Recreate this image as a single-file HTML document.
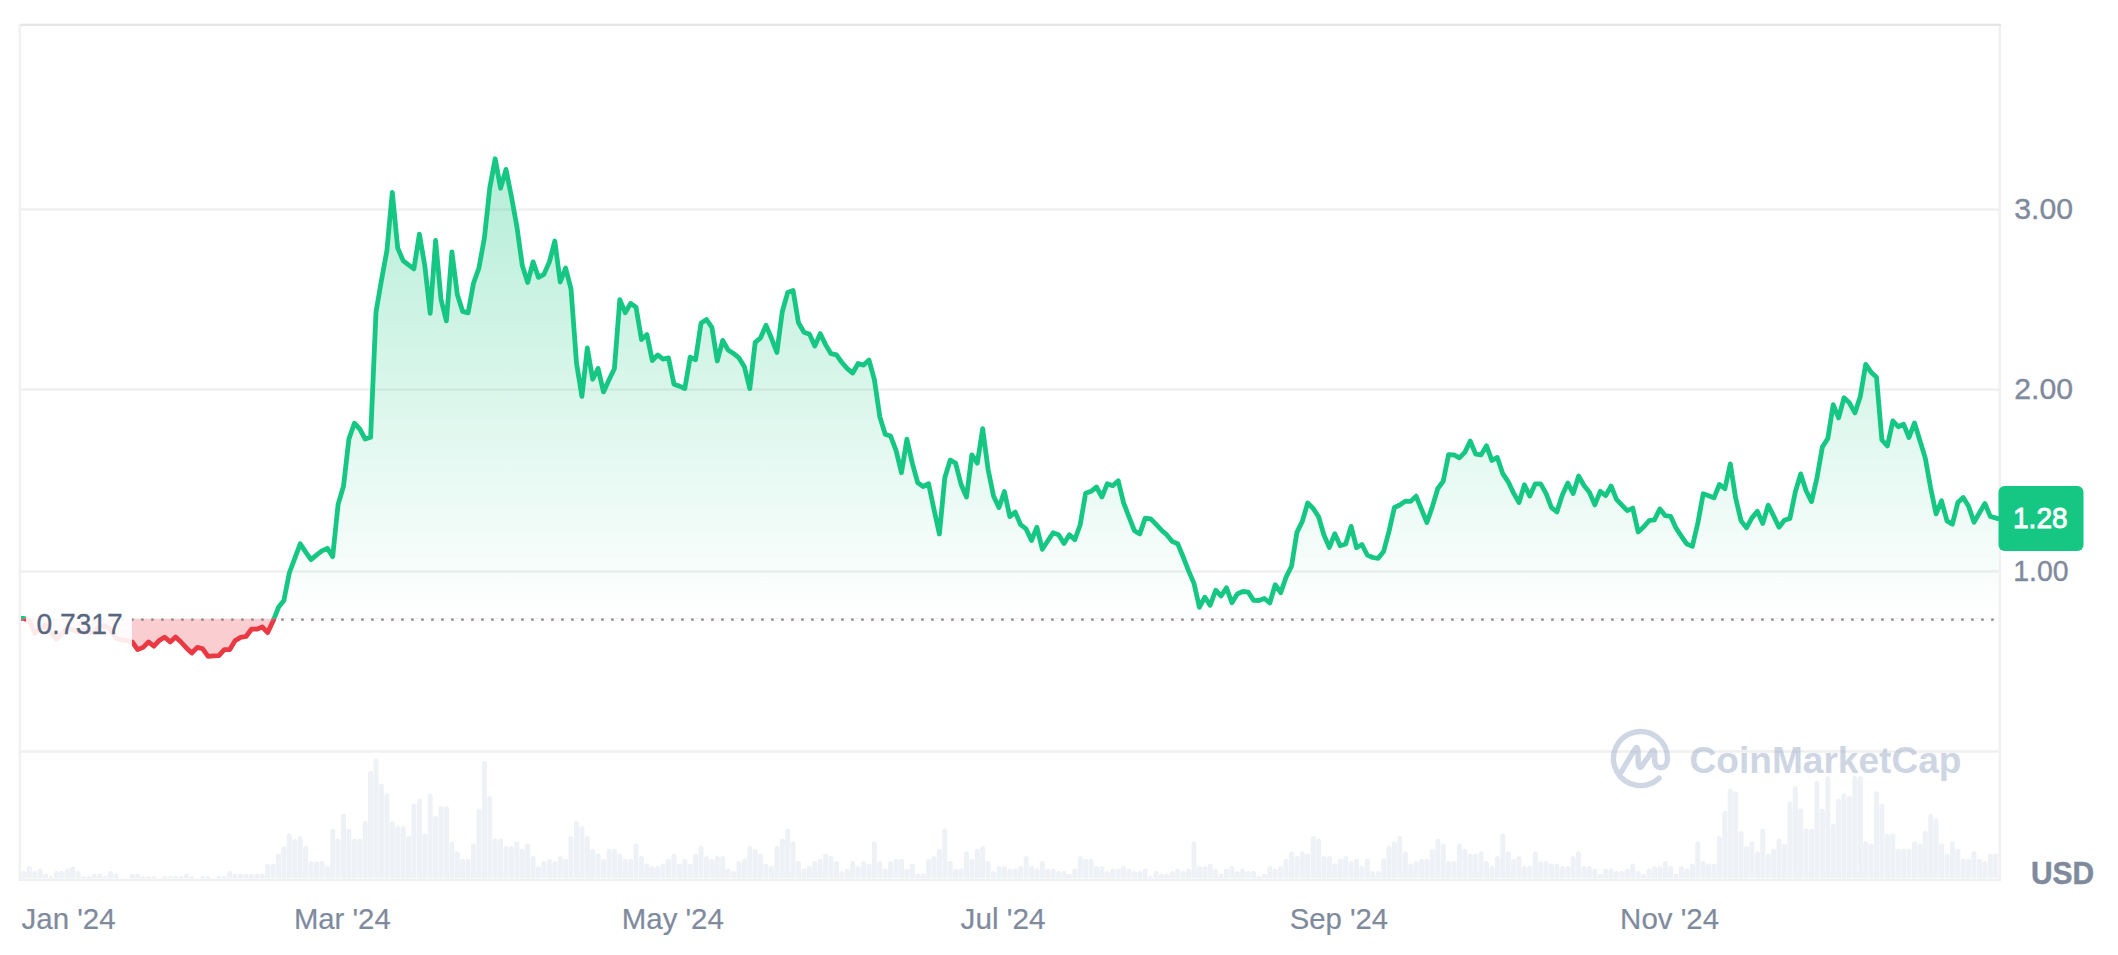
<!DOCTYPE html>
<html lang="en"><head><meta charset="utf-8"><title>Price chart</title>
<style>
html,body{margin:0;padding:0;background:#fff;}
body{width:2118px;height:955px;overflow:hidden;font-family:"Liberation Sans",sans-serif;}
svg{display:block}
text{font-family:"Liberation Sans",sans-serif;}
.ax{font-size:30px;fill:#808a9d;stroke:#808a9d;stroke-width:0.2px;}
.ay{font-size:30.2px;fill:#808a9d;stroke:#808a9d;stroke-width:0.4px;}
</style></head><body>
<svg width="2118" height="955" viewBox="0 0 2118 955">
<defs>
<linearGradient id="gg" gradientUnits="userSpaceOnUse" x1="0" y1="158" x2="0" y2="618.5">
<stop offset="0" stop-color="#16c784" stop-opacity="0.32"/>
<stop offset="1" stop-color="#16c784" stop-opacity="0.0"/>
</linearGradient>
<clipPath id="up"><rect x="21" y="26" width="1978" height="592.5"/></clipPath>
<clipPath id="dn"><rect x="21" y="618.5" width="1978" height="260.5"/></clipPath>
<clipPath id="plot"><rect x="21" y="26" width="1978" height="853"/></clipPath>
</defs>
<rect width="2118" height="955" fill="#fff"/>
<g clip-path="url(#plot)"><path d="M16 878.6V876.1Q16 873.6 18.5 873.6Q21 873.6 21 876.1V878.6ZM21.4 878.6V873.6Q21.4 871.1 23.9 871.1Q26.4 871.1 26.4 873.6V878.6ZM26.8 878.6V868.5Q26.8 866 29.3 866Q31.8 866 31.8 868.5V878.6ZM32.3 878.6V873.6Q32.3 871.1 34.8 871.1Q37.3 871.1 37.3 873.6V878.6ZM37.7 878.6V871.1Q37.7 868.6 40.2 868.6Q42.7 868.6 42.7 871.1V878.6ZM43.1 878.6V876.1Q43.1 873.6 45.6 873.6Q48.1 873.6 48.1 876.1V878.6ZM48.5 878.6V878.6Q48.5 876.1 51 876.1Q53.5 876.1 53.5 878.6V878.6ZM53.9 878.6V873.6Q53.9 871.1 56.4 871.1Q58.9 871.1 58.9 873.6V878.6ZM59.3 878.6V873.6Q59.3 871.1 61.8 871.1Q64.3 871.1 64.3 873.6V878.6ZM64.8 878.6V871.1Q64.8 868.6 67.3 868.6Q69.8 868.6 69.8 871.1V878.6ZM70.2 878.6V868.5Q70.2 866 72.7 866Q75.2 866 75.2 868.5V878.6ZM75.6 878.6V873.6Q75.6 871.1 78.1 871.1Q80.6 871.1 80.6 873.6V878.6ZM81 878.6V878.6Q81 876.1 83.5 876.1Q86 876.1 86 878.6V878.6ZM86.4 878.6V878.6Q86.4 876.1 88.9 876.1Q91.4 876.1 91.4 878.6V878.6ZM91.8 878.6V876.1Q91.8 873.6 94.3 873.6Q96.8 873.6 96.8 876.1V878.6ZM97.3 878.6V876.1Q97.3 873.6 99.8 873.6Q102.3 873.6 102.3 876.1V878.6ZM102.7 878.6V878.6Q102.7 876.1 105.2 876.1Q107.7 876.1 107.7 878.6V878.6ZM108.1 878.6V873.6Q108.1 871.1 110.6 871.1Q113.1 871.1 113.1 873.6V878.6ZM113.5 878.6V876.1Q113.5 873.6 116 873.6Q118.5 873.6 118.5 876.1V878.6ZM129.8 878.6V876.1Q129.8 873.6 132.3 873.6Q134.8 873.6 134.8 876.1V878.6ZM135.2 878.6V876.1Q135.2 873.6 137.7 873.6Q140.2 873.6 140.2 876.1V878.6ZM140.6 878.6V878.6Q140.6 876.1 143.1 876.1Q145.6 876.1 145.6 878.6V878.6ZM146 878.6V878.6Q146 876.1 148.5 876.1Q151 876.1 151 878.6V878.6ZM151.4 878.6V878.6Q151.4 876.1 153.9 876.1Q156.4 876.1 156.4 878.6V878.6ZM162.3 878.6V878.6Q162.3 876.1 164.8 876.1Q167.3 876.1 167.3 878.6V878.6ZM167.7 878.6V878.6Q167.7 876.1 170.2 876.1Q172.7 876.1 172.7 878.6V878.6ZM173.1 878.6V878.6Q173.1 876.1 175.6 876.1Q178.1 876.1 178.1 878.6V878.6ZM178.5 878.6V878.6Q178.5 876.1 181 876.1Q183.5 876.1 183.5 878.6V878.6ZM183.9 878.6V876.1Q183.9 873.6 186.4 873.6Q188.9 873.6 188.9 876.1V878.6ZM189.3 878.6V878.6Q189.3 876.1 191.8 876.1Q194.3 876.1 194.3 878.6V878.6ZM200.2 878.6V878.6Q200.2 876.1 202.7 876.1Q205.2 876.1 205.2 878.6V878.6ZM205.6 878.6V878.6Q205.6 876.1 208.1 876.1Q210.6 876.1 210.6 878.6V878.6ZM216.4 878.6V878.6Q216.4 876.1 218.9 876.1Q221.4 876.1 221.4 878.6V878.6ZM221.8 878.6V878.6Q221.8 876.1 224.3 876.1Q226.8 876.1 226.8 878.6V878.6ZM227.3 878.6V873.6Q227.3 871.1 229.8 871.1Q232.3 871.1 232.3 873.6V878.6ZM232.7 878.6V876.1Q232.7 873.6 235.2 873.6Q237.7 873.6 237.7 876.1V878.6ZM238.1 878.6V876.1Q238.1 873.6 240.6 873.6Q243.1 873.6 243.1 876.1V878.6ZM243.5 878.6V876.1Q243.5 873.6 246 873.6Q248.5 873.6 248.5 876.1V878.6ZM248.9 878.6V876.1Q248.9 873.6 251.4 873.6Q253.9 873.6 253.9 876.1V878.6ZM254.3 878.6V876.1Q254.3 873.6 256.8 873.6Q259.3 873.6 259.3 876.1V878.6ZM259.8 878.6V876.1Q259.8 873.6 262.3 873.6Q264.8 873.6 264.8 876.1V878.6ZM265.2 878.6V866.1Q265.2 863.6 267.7 863.6Q270.2 863.6 270.2 866.1V878.6ZM270.6 878.6V866.1Q270.6 863.6 273.1 863.6Q275.6 863.6 275.6 866.1V878.6ZM276 878.6V856.1Q276 853.6 278.5 853.6Q281 853.6 281 856.1V878.6ZM281.4 878.6V848.6Q281.4 846.1 283.9 846.1Q286.4 846.1 286.4 848.6V878.6ZM286.8 878.6V836.1Q286.8 833.6 289.3 833.6Q291.8 833.6 291.8 836.1V878.6ZM292.3 878.6V841.4Q292.3 838.9 294.8 838.9Q297.3 838.9 297.3 841.4V878.6ZM297.7 878.6V838.6Q297.7 836.1 300.2 836.1Q302.7 836.1 302.7 838.6V878.6ZM303.1 878.6V848.6Q303.1 846.1 305.6 846.1Q308.1 846.1 308.1 848.6V878.6ZM308.5 878.6V863.6Q308.5 861.1 311 861.1Q313.5 861.1 313.5 863.6V878.6ZM313.9 878.6V863.6Q313.9 861.1 316.4 861.1Q318.9 861.1 318.9 863.6V878.6ZM319.4 878.6V863.6Q319.4 861.1 321.9 861.1Q324.4 861.1 324.4 863.6V878.6ZM324.8 878.6V868.5Q324.8 866 327.3 866Q329.8 866 329.8 868.5V878.6ZM330.2 878.6V831.1Q330.2 828.6 332.7 828.6Q335.2 828.6 335.2 831.1V878.6ZM335.6 878.6V841.1Q335.6 838.6 338.1 838.6Q340.6 838.6 340.6 841.1V878.6ZM341 878.6V816.1Q341 813.6 343.5 813.6Q346 813.6 346 816.1V878.6ZM346.4 878.6V831.1Q346.4 828.6 348.9 828.6Q351.4 828.6 351.4 831.1V878.6ZM351.9 878.6V841.1Q351.9 838.6 354.4 838.6Q356.9 838.6 356.9 841.1V878.6ZM357.3 878.6V841.1Q357.3 838.6 359.8 838.6Q362.3 838.6 362.3 841.1V878.6ZM362.7 878.6V823.5Q362.7 821 365.2 821Q367.7 821 367.7 823.5V878.6ZM368.1 878.6V773.5Q368.1 771 370.6 771Q373.1 771 373.1 773.5V878.6ZM373.5 878.6V761.1Q373.5 758.6 376 758.6Q378.5 758.6 378.5 761.1V878.6ZM378.9 878.6V786.1Q378.9 783.6 381.4 783.6Q383.9 783.6 383.9 786.1V878.6ZM384.4 878.6V796.1Q384.4 793.6 386.9 793.6Q389.4 793.6 389.4 796.1V878.6ZM389.8 878.6V823.5Q389.8 821 392.3 821Q394.8 821 394.8 823.5V878.6ZM395.2 878.6V828.6Q395.2 826.1 397.7 826.1Q400.2 826.1 400.2 828.6V878.6ZM400.6 878.6V828.6Q400.6 826.1 403.1 826.1Q405.6 826.1 405.6 828.6V878.6ZM406 878.6V838.6Q406 836.1 408.5 836.1Q411 836.1 411 838.6V878.6ZM411.4 878.6V806.1Q411.4 803.6 413.9 803.6Q416.4 803.6 416.4 806.1V878.6ZM416.9 878.6V801.1Q416.9 798.6 419.4 798.6Q421.9 798.6 421.9 801.1V878.6ZM422.3 878.6V836.1Q422.3 833.6 424.8 833.6Q427.3 833.6 427.3 836.1V878.6ZM427.7 878.6V796.1Q427.7 793.6 430.2 793.6Q432.7 793.6 432.7 796.1V878.6ZM433.1 878.6V818.4Q433.1 815.9 435.6 815.9Q438.1 815.9 438.1 818.4V878.6ZM438.5 878.6V808.4Q438.5 805.9 441 805.9Q443.5 805.9 443.5 808.4V878.6ZM443.9 878.6V808.4Q443.9 805.9 446.4 805.9Q448.9 805.9 448.9 808.4V878.6ZM449.4 878.6V843.7Q449.4 841.2 451.9 841.2Q454.4 841.2 454.4 843.7V878.6ZM454.8 878.6V853.7Q454.8 851.2 457.3 851.2Q459.8 851.2 459.8 853.7V878.6ZM460.2 878.6V861.3Q460.2 858.8 462.7 858.8Q465.2 858.8 465.2 861.3V878.6ZM465.6 878.6V861.3Q465.6 858.8 468.1 858.8Q470.6 858.8 470.6 861.3V878.6ZM471 878.6V846.1Q471 843.6 473.5 843.6Q476 843.6 476 846.1V878.6ZM476.4 878.6V811.1Q476.4 808.6 478.9 808.6Q481.4 808.6 481.4 811.1V878.6ZM481.9 878.6V763.4Q481.9 760.9 484.4 760.9Q486.9 760.9 486.9 763.4V878.6ZM487.3 878.6V798.6Q487.3 796.1 489.8 796.1Q492.3 796.1 492.3 798.6V878.6ZM492.7 878.6V841.1Q492.7 838.6 495.2 838.6Q497.7 838.6 497.7 841.1V878.6ZM498.1 878.6V841.1Q498.1 838.6 500.6 838.6Q503.1 838.6 503.1 841.1V878.6ZM503.5 878.6V848.6Q503.5 846.1 506 846.1Q508.5 846.1 508.5 848.6V878.6ZM508.9 878.6V848.6Q508.9 846.1 511.4 846.1Q513.9 846.1 513.9 848.6V878.6ZM514.4 878.6V843.7Q514.4 841.2 516.9 841.2Q519.4 841.2 519.4 843.7V878.6ZM519.8 878.6V851.3Q519.8 848.8 522.3 848.8Q524.8 848.8 524.8 851.3V878.6ZM525.2 878.6V846.1Q525.2 843.6 527.7 843.6Q530.2 843.6 530.2 846.1V878.6ZM530.6 878.6V858.4Q530.6 855.9 533.1 855.9Q535.6 855.9 535.6 858.4V878.6ZM536 878.6V868.4Q536 865.9 538.5 865.9Q541 865.9 541 868.4V878.6ZM541.4 878.6V863.5Q541.4 861 543.9 861Q546.4 861 546.4 863.5V878.6ZM546.9 878.6V861.3Q546.9 858.8 549.4 858.8Q551.9 858.8 551.9 861.3V878.6ZM552.3 878.6V863.5Q552.3 861 554.8 861Q557.3 861 557.3 863.5V878.6ZM557.7 878.6V858.4Q557.7 855.9 560.2 855.9Q562.7 855.9 562.7 858.4V878.6ZM563.1 878.6V861.3Q563.1 858.8 565.6 858.8Q568.1 858.8 568.1 861.3V878.6ZM568.5 878.6V838.6Q568.5 836.1 571 836.1Q573.5 836.1 573.5 838.6V878.6ZM574 878.6V823.5Q574 821 576.5 821Q579 821 579 823.5V878.6ZM579.4 878.6V828.6Q579.4 826.1 581.9 826.1Q584.4 826.1 584.4 828.6V878.6ZM584.8 878.6V838.6Q584.8 836.1 587.3 836.1Q589.8 836.1 589.8 838.6V878.6ZM590.2 878.6V851.3Q590.2 848.8 592.7 848.8Q595.2 848.8 595.2 851.3V878.6ZM595.6 878.6V856.1Q595.6 853.6 598.1 853.6Q600.6 853.6 600.6 856.1V878.6ZM601 878.6V861.3Q601 858.8 603.5 858.8Q606 858.8 606 861.3V878.6ZM606.5 878.6V851.3Q606.5 848.8 609 848.8Q611.5 848.8 611.5 851.3V878.6ZM611.9 878.6V851.3Q611.9 848.8 614.4 848.8Q616.9 848.8 616.9 851.3V878.6ZM617.3 878.6V856.1Q617.3 853.6 619.8 853.6Q622.3 853.6 622.3 856.1V878.6ZM622.7 878.6V861.3Q622.7 858.8 625.2 858.8Q627.7 858.8 627.7 861.3V878.6ZM628.1 878.6V861.3Q628.1 858.8 630.6 858.8Q633.1 858.8 633.1 861.3V878.6ZM633.5 878.6V846.1Q633.5 843.6 636 843.6Q638.5 843.6 638.5 846.1V878.6ZM639 878.6V858.4Q639 855.9 641.5 855.9Q644 855.9 644 858.4V878.6ZM644.4 878.6V866.1Q644.4 863.6 646.9 863.6Q649.4 863.6 649.4 866.1V878.6ZM649.8 878.6V868.4Q649.8 865.9 652.3 865.9Q654.8 865.9 654.8 868.4V878.6ZM655.2 878.6V868.4Q655.2 865.9 657.7 865.9Q660.2 865.9 660.2 868.4V878.6ZM660.6 878.6V866.1Q660.6 863.6 663.1 863.6Q665.6 863.6 665.6 866.1V878.6ZM666 878.6V861.3Q666 858.8 668.5 858.8Q671 858.8 671 861.3V878.6ZM671.5 878.6V856.1Q671.5 853.6 674 853.6Q676.5 853.6 676.5 856.1V878.6ZM676.9 878.6V866.1Q676.9 863.6 679.4 863.6Q681.9 863.6 681.9 866.1V878.6ZM682.3 878.6V861.3Q682.3 858.8 684.8 858.8Q687.3 858.8 687.3 861.3V878.6ZM687.7 878.6V866.1Q687.7 863.6 690.2 863.6Q692.7 863.6 692.7 866.1V878.6ZM693.1 878.6V856.1Q693.1 853.6 695.6 853.6Q698.1 853.6 698.1 856.1V878.6ZM698.5 878.6V848.6Q698.5 846.1 701 846.1Q703.5 846.1 703.5 848.6V878.6ZM704 878.6V858.4Q704 855.9 706.5 855.9Q709 855.9 709 858.4V878.6ZM709.4 878.6V861.3Q709.4 858.8 711.9 858.8Q714.4 858.8 714.4 861.3V878.6ZM714.8 878.6V858.4Q714.8 855.9 717.3 855.9Q719.8 855.9 719.8 858.4V878.6ZM720.2 878.6V858.4Q720.2 855.9 722.7 855.9Q725.2 855.9 725.2 858.4V878.6ZM725.6 878.6V871.1Q725.6 868.6 728.1 868.6Q730.6 868.6 730.6 871.1V878.6ZM731 878.6V873.6Q731 871.1 733.5 871.1Q736 871.1 736 873.6V878.6ZM736.5 878.6V863.5Q736.5 861 739 861Q741.5 861 741.5 863.5V878.6ZM741.9 878.6V861.3Q741.9 858.8 744.4 858.8Q746.9 858.8 746.9 861.3V878.6ZM747.3 878.6V848.6Q747.3 846.1 749.8 846.1Q752.3 846.1 752.3 848.6V878.6ZM752.7 878.6V851.3Q752.7 848.8 755.2 848.8Q757.7 848.8 757.7 851.3V878.6ZM758.1 878.6V856.1Q758.1 853.6 760.6 853.6Q763.1 853.6 763.1 856.1V878.6ZM763.5 878.6V866.1Q763.5 863.6 766 863.6Q768.5 863.6 768.5 866.1V878.6ZM769 878.6V868.4Q769 865.9 771.5 865.9Q774 865.9 774 868.4V878.6ZM774.4 878.6V848.6Q774.4 846.1 776.9 846.1Q779.4 846.1 779.4 848.6V878.6ZM779.8 878.6V841.1Q779.8 838.6 782.3 838.6Q784.8 838.6 784.8 841.1V878.6ZM785.2 878.6V831.1Q785.2 828.6 787.7 828.6Q790.2 828.6 790.2 831.1V878.6ZM790.6 878.6V843.7Q790.6 841.2 793.1 841.2Q795.6 841.2 795.6 843.7V878.6ZM796 878.6V863.5Q796 861 798.5 861Q801 861 801 863.5V878.6ZM801.5 878.6V871.1Q801.5 868.6 804 868.6Q806.5 868.6 806.5 871.1V878.6ZM806.9 878.6V868.4Q806.9 865.9 809.4 865.9Q811.9 865.9 811.9 868.4V878.6ZM812.3 878.6V863.5Q812.3 861 814.8 861Q817.3 861 817.3 863.5V878.6ZM817.7 878.6V861.3Q817.7 858.8 820.2 858.8Q822.7 858.8 822.7 861.3V878.6ZM823.1 878.6V856.1Q823.1 853.6 825.6 853.6Q828.1 853.6 828.1 856.1V878.6ZM828.5 878.6V858.4Q828.5 855.9 831 855.9Q833.5 855.9 833.5 858.4V878.6ZM834 878.6V863.5Q834 861 836.5 861Q839 861 839 863.5V878.6ZM839.4 878.6V873.6Q839.4 871.1 841.9 871.1Q844.4 871.1 844.4 873.6V878.6ZM844.8 878.6V871.1Q844.8 868.6 847.3 868.6Q849.8 868.6 849.8 871.1V878.6ZM850.2 878.6V863.5Q850.2 861 852.7 861Q855.2 861 855.2 863.5V878.6ZM855.6 878.6V868.4Q855.6 865.9 858.1 865.9Q860.6 865.9 860.6 868.4V878.6ZM861.1 878.6V863.5Q861.1 861 863.6 861Q866.1 861 866.1 863.5V878.6ZM866.5 878.6V866.1Q866.5 863.6 869 863.6Q871.5 863.6 871.5 866.1V878.6ZM871.9 878.6V843.7Q871.9 841.2 874.4 841.2Q876.9 841.2 876.9 843.7V878.6ZM877.3 878.6V863.5Q877.3 861 879.8 861Q882.3 861 882.3 863.5V878.6ZM882.7 878.6V871.1Q882.7 868.6 885.2 868.6Q887.7 868.6 887.7 871.1V878.6ZM888.1 878.6V863.5Q888.1 861 890.6 861Q893.1 861 893.1 863.5V878.6ZM893.6 878.6V861.3Q893.6 858.8 896.1 858.8Q898.6 858.8 898.6 861.3V878.6ZM899 878.6V861.3Q899 858.8 901.5 858.8Q904 858.8 904 861.3V878.6ZM904.4 878.6V871.1Q904.4 868.6 906.9 868.6Q909.4 868.6 909.4 871.1V878.6ZM909.8 878.6V866.1Q909.8 863.6 912.3 863.6Q914.8 863.6 914.8 866.1V878.6ZM915.2 878.6V876.1Q915.2 873.6 917.7 873.6Q920.2 873.6 920.2 876.1V878.6ZM920.6 878.6V876.1Q920.6 873.6 923.1 873.6Q925.6 873.6 925.6 876.1V878.6ZM926.1 878.6V861.3Q926.1 858.8 928.6 858.8Q931.1 858.8 931.1 861.3V878.6ZM931.5 878.6V858.4Q931.5 855.9 934 855.9Q936.5 855.9 936.5 858.4V878.6ZM936.9 878.6V851.3Q936.9 848.8 939.4 848.8Q941.9 848.8 941.9 851.3V878.6ZM942.3 878.6V831.1Q942.3 828.6 944.8 828.6Q947.3 828.6 947.3 831.1V878.6ZM947.7 878.6V863.5Q947.7 861 950.2 861Q952.7 861 952.7 863.5V878.6ZM953.1 878.6V871.1Q953.1 868.6 955.6 868.6Q958.1 868.6 958.1 871.1V878.6ZM958.6 878.6V871.1Q958.6 868.6 961.1 868.6Q963.6 868.6 963.6 871.1V878.6ZM964 878.6V853.7Q964 851.2 966.5 851.2Q969 851.2 969 853.7V878.6ZM969.4 878.6V861.3Q969.4 858.8 971.9 858.8Q974.4 858.8 974.4 861.3V878.6ZM974.8 878.6V851.3Q974.8 848.8 977.3 848.8Q979.8 848.8 979.8 851.3V878.6ZM980.2 878.6V848.6Q980.2 846.1 982.7 846.1Q985.2 846.1 985.2 848.6V878.6ZM985.6 878.6V863.5Q985.6 861 988.1 861Q990.6 861 990.6 863.5V878.6ZM991.1 878.6V873.6Q991.1 871.1 993.6 871.1Q996.1 871.1 996.1 873.6V878.6ZM996.5 878.6V868.4Q996.5 865.9 999 865.9Q1001.5 865.9 1001.5 868.4V878.6ZM1001.9 878.6V868.4Q1001.9 865.9 1004.4 865.9Q1006.9 865.9 1006.9 868.4V878.6ZM1007.3 878.6V871.1Q1007.3 868.6 1009.8 868.6Q1012.3 868.6 1012.3 871.1V878.6ZM1012.7 878.6V871.1Q1012.7 868.6 1015.2 868.6Q1017.7 868.6 1017.7 871.1V878.6ZM1018.1 878.6V868.4Q1018.1 865.9 1020.6 865.9Q1023.1 865.9 1023.1 868.4V878.6ZM1023.6 878.6V858.4Q1023.6 855.9 1026.1 855.9Q1028.6 855.9 1028.6 858.4V878.6ZM1029 878.6V868.4Q1029 865.9 1031.5 865.9Q1034 865.9 1034 868.4V878.6ZM1034.4 878.6V871.1Q1034.4 868.6 1036.9 868.6Q1039.4 868.6 1039.4 871.1V878.6ZM1039.8 878.6V863.5Q1039.8 861 1042.3 861Q1044.8 861 1044.8 863.5V878.6ZM1045.2 878.6V871.1Q1045.2 868.6 1047.7 868.6Q1050.2 868.6 1050.2 871.1V878.6ZM1050.6 878.6V871.1Q1050.6 868.6 1053.1 868.6Q1055.6 868.6 1055.6 871.1V878.6ZM1056.1 878.6V873.6Q1056.1 871.1 1058.6 871.1Q1061.1 871.1 1061.1 873.6V878.6ZM1061.5 878.6V873.6Q1061.5 871.1 1064 871.1Q1066.5 871.1 1066.5 873.6V878.6ZM1066.9 878.6V876.1Q1066.9 873.6 1069.4 873.6Q1071.9 873.6 1071.9 876.1V878.6ZM1072.3 878.6V871.1Q1072.3 868.6 1074.8 868.6Q1077.3 868.6 1077.3 871.1V878.6ZM1077.7 878.6V858.4Q1077.7 855.9 1080.2 855.9Q1082.7 855.9 1082.7 858.4V878.6ZM1083.1 878.6V861.3Q1083.1 858.8 1085.6 858.8Q1088.1 858.8 1088.1 861.3V878.6ZM1088.6 878.6V861.3Q1088.6 858.8 1091.1 858.8Q1093.6 858.8 1093.6 861.3V878.6ZM1094 878.6V868.4Q1094 865.9 1096.5 865.9Q1099 865.9 1099 868.4V878.6ZM1099.4 878.6V868.4Q1099.4 865.9 1101.9 865.9Q1104.4 865.9 1104.4 868.4V878.6ZM1104.8 878.6V873.6Q1104.8 871.1 1107.3 871.1Q1109.8 871.1 1109.8 873.6V878.6ZM1110.2 878.6V871.1Q1110.2 868.6 1112.7 868.6Q1115.2 868.6 1115.2 871.1V878.6ZM1115.7 878.6V871.1Q1115.7 868.6 1118.2 868.6Q1120.7 868.6 1120.7 871.1V878.6ZM1121.1 878.6V868.4Q1121.1 865.9 1123.6 865.9Q1126.1 865.9 1126.1 868.4V878.6ZM1126.5 878.6V871.1Q1126.5 868.6 1129 868.6Q1131.5 868.6 1131.5 871.1V878.6ZM1131.9 878.6V873.6Q1131.9 871.1 1134.4 871.1Q1136.9 871.1 1136.9 873.6V878.6ZM1137.3 878.6V873.6Q1137.3 871.1 1139.8 871.1Q1142.3 871.1 1142.3 873.6V878.6ZM1142.7 878.6V871.1Q1142.7 868.6 1145.2 868.6Q1147.7 868.6 1147.7 871.1V878.6ZM1148.2 878.6V878.6Q1148.2 876.1 1150.7 876.1Q1153.2 876.1 1153.2 878.6V878.6ZM1153.6 878.6V873.6Q1153.6 871.1 1156.1 871.1Q1158.6 871.1 1158.6 873.6V878.6ZM1159 878.6V876.1Q1159 873.6 1161.5 873.6Q1164 873.6 1164 876.1V878.6ZM1164.4 878.6V876.1Q1164.4 873.6 1166.9 873.6Q1169.4 873.6 1169.4 876.1V878.6ZM1169.8 878.6V873.6Q1169.8 871.1 1172.3 871.1Q1174.8 871.1 1174.8 873.6V878.6ZM1175.2 878.6V871.1Q1175.2 868.6 1177.7 868.6Q1180.2 868.6 1180.2 871.1V878.6ZM1180.7 878.6V873.6Q1180.7 871.1 1183.2 871.1Q1185.7 871.1 1185.7 873.6V878.6ZM1186.1 878.6V871.1Q1186.1 868.6 1188.6 868.6Q1191.1 868.6 1191.1 871.1V878.6ZM1191.5 878.6V843.7Q1191.5 841.2 1194 841.2Q1196.5 841.2 1196.5 843.7V878.6ZM1196.9 878.6V868.4Q1196.9 865.9 1199.4 865.9Q1201.9 865.9 1201.9 868.4V878.6ZM1202.3 878.6V868.4Q1202.3 865.9 1204.8 865.9Q1207.3 865.9 1207.3 868.4V878.6ZM1207.7 878.6V866.1Q1207.7 863.6 1210.2 863.6Q1212.7 863.6 1212.7 866.1V878.6ZM1213.2 878.6V871.1Q1213.2 868.6 1215.7 868.6Q1218.2 868.6 1218.2 871.1V878.6ZM1218.6 878.6V876.1Q1218.6 873.6 1221.1 873.6Q1223.6 873.6 1223.6 876.1V878.6ZM1224 878.6V871.1Q1224 868.6 1226.5 868.6Q1229 868.6 1229 871.1V878.6ZM1229.4 878.6V868.4Q1229.4 865.9 1231.9 865.9Q1234.4 865.9 1234.4 868.4V878.6ZM1234.8 878.6V873.6Q1234.8 871.1 1237.3 871.1Q1239.8 871.1 1239.8 873.6V878.6ZM1240.2 878.6V871.1Q1240.2 868.6 1242.7 868.6Q1245.2 868.6 1245.2 871.1V878.6ZM1245.7 878.6V873.6Q1245.7 871.1 1248.2 871.1Q1250.7 871.1 1250.7 873.6V878.6ZM1251.1 878.6V873.6Q1251.1 871.1 1253.6 871.1Q1256.1 871.1 1256.1 873.6V878.6ZM1256.5 878.6V878.6Q1256.5 876.1 1259 876.1Q1261.5 876.1 1261.5 878.6V878.6ZM1261.9 878.6V876.1Q1261.9 873.6 1264.4 873.6Q1266.9 873.6 1266.9 876.1V878.6ZM1267.3 878.6V868.4Q1267.3 865.9 1269.8 865.9Q1272.3 865.9 1272.3 868.4V878.6ZM1272.7 878.6V871.1Q1272.7 868.6 1275.2 868.6Q1277.7 868.6 1277.7 871.1V878.6ZM1278.2 878.6V868.4Q1278.2 865.9 1280.7 865.9Q1283.2 865.9 1283.2 868.4V878.6ZM1283.6 878.6V861.3Q1283.6 858.8 1286.1 858.8Q1288.6 858.8 1288.6 861.3V878.6ZM1289 878.6V853.7Q1289 851.2 1291.5 851.2Q1294 851.2 1294 853.7V878.6ZM1294.4 878.6V858.4Q1294.4 855.9 1296.9 855.9Q1299.4 855.9 1299.4 858.4V878.6ZM1299.8 878.6V853.7Q1299.8 851.2 1302.3 851.2Q1304.8 851.2 1304.8 853.7V878.6ZM1305.2 878.6V856.1Q1305.2 853.6 1307.7 853.6Q1310.2 853.6 1310.2 856.1V878.6ZM1310.7 878.6V838.6Q1310.7 836.1 1313.2 836.1Q1315.7 836.1 1315.7 838.6V878.6ZM1316.1 878.6V841.1Q1316.1 838.6 1318.6 838.6Q1321.1 838.6 1321.1 841.1V878.6ZM1321.5 878.6V858.4Q1321.5 855.9 1324 855.9Q1326.5 855.9 1326.5 858.4V878.6ZM1326.9 878.6V858.4Q1326.9 855.9 1329.4 855.9Q1331.9 855.9 1331.9 858.4V878.6ZM1332.3 878.6V866.1Q1332.3 863.6 1334.8 863.6Q1337.3 863.6 1337.3 866.1V878.6ZM1337.7 878.6V861.3Q1337.7 858.8 1340.2 858.8Q1342.7 858.8 1342.7 861.3V878.6ZM1343.2 878.6V858.4Q1343.2 855.9 1345.7 855.9Q1348.2 855.9 1348.2 858.4V878.6ZM1348.6 878.6V863.5Q1348.6 861 1351.1 861Q1353.6 861 1353.6 863.5V878.6ZM1354 878.6V861.3Q1354 858.8 1356.5 858.8Q1359 858.8 1359 861.3V878.6ZM1359.4 878.6V868.4Q1359.4 865.9 1361.9 865.9Q1364.4 865.9 1364.4 868.4V878.6ZM1364.8 878.6V861.3Q1364.8 858.8 1367.3 858.8Q1369.8 858.8 1369.8 861.3V878.6ZM1370.2 878.6V873.6Q1370.2 871.1 1372.8 871.1Q1375.2 871.1 1375.2 873.6V878.6ZM1375.7 878.6V873.6Q1375.7 871.1 1378.2 871.1Q1380.7 871.1 1380.7 873.6V878.6ZM1381.1 878.6V861.3Q1381.1 858.8 1383.6 858.8Q1386.1 858.8 1386.1 861.3V878.6ZM1386.5 878.6V848.6Q1386.5 846.1 1389 846.1Q1391.5 846.1 1391.5 848.6V878.6ZM1391.9 878.6V843.7Q1391.9 841.2 1394.4 841.2Q1396.9 841.2 1396.9 843.7V878.6ZM1397.3 878.6V838.6Q1397.3 836.1 1399.8 836.1Q1402.3 836.1 1402.3 838.6V878.6ZM1402.8 878.6V853.7Q1402.8 851.2 1405.3 851.2Q1407.8 851.2 1407.8 853.7V878.6ZM1408.2 878.6V866.1Q1408.2 863.6 1410.7 863.6Q1413.2 863.6 1413.2 866.1V878.6ZM1413.6 878.6V863.5Q1413.6 861 1416.1 861Q1418.6 861 1418.6 863.5V878.6ZM1419 878.6V861.3Q1419 858.8 1421.5 858.8Q1424 858.8 1424 861.3V878.6ZM1424.4 878.6V861.3Q1424.4 858.8 1426.9 858.8Q1429.4 858.8 1429.4 861.3V878.6ZM1429.8 878.6V851.3Q1429.8 848.8 1432.3 848.8Q1434.8 848.8 1434.8 851.3V878.6ZM1435.3 878.6V841.1Q1435.3 838.6 1437.8 838.6Q1440.3 838.6 1440.3 841.1V878.6ZM1440.7 878.6V846.1Q1440.7 843.6 1443.2 843.6Q1445.7 843.6 1445.7 846.1V878.6ZM1446.1 878.6V863.5Q1446.1 861 1448.6 861Q1451.1 861 1451.1 863.5V878.6ZM1451.5 878.6V863.5Q1451.5 861 1454 861Q1456.5 861 1456.5 863.5V878.6ZM1456.9 878.6V846.1Q1456.9 843.6 1459.4 843.6Q1461.9 843.6 1461.9 846.1V878.6ZM1462.3 878.6V851.3Q1462.3 848.8 1464.8 848.8Q1467.3 848.8 1467.3 851.3V878.6ZM1467.8 878.6V856.1Q1467.8 853.6 1470.3 853.6Q1472.8 853.6 1472.8 856.1V878.6ZM1473.2 878.6V856.1Q1473.2 853.6 1475.7 853.6Q1478.2 853.6 1478.2 856.1V878.6ZM1478.6 878.6V853.7Q1478.6 851.2 1481.1 851.2Q1483.6 851.2 1483.6 853.7V878.6ZM1484 878.6V863.5Q1484 861 1486.5 861Q1489 861 1489 863.5V878.6ZM1489.4 878.6V868.4Q1489.4 865.9 1491.9 865.9Q1494.4 865.9 1494.4 868.4V878.6ZM1494.8 878.6V858.4Q1494.8 855.9 1497.3 855.9Q1499.8 855.9 1499.8 858.4V878.6ZM1500.3 878.6V836.1Q1500.3 833.6 1502.8 833.6Q1505.3 833.6 1505.3 836.1V878.6ZM1505.7 878.6V853.7Q1505.7 851.2 1508.2 851.2Q1510.7 851.2 1510.7 853.7V878.6ZM1511.1 878.6V861.3Q1511.1 858.8 1513.6 858.8Q1516.1 858.8 1516.1 861.3V878.6ZM1516.5 878.6V858.4Q1516.5 855.9 1519 855.9Q1521.5 855.9 1521.5 858.4V878.6ZM1521.9 878.6V868.4Q1521.9 865.9 1524.4 865.9Q1526.9 865.9 1526.9 868.4V878.6ZM1527.3 878.6V868.4Q1527.3 865.9 1529.8 865.9Q1532.3 865.9 1532.3 868.4V878.6ZM1532.8 878.6V853.7Q1532.8 851.2 1535.3 851.2Q1537.8 851.2 1537.8 853.7V878.6ZM1538.2 878.6V863.5Q1538.2 861 1540.7 861Q1543.2 861 1543.2 863.5V878.6ZM1543.6 878.6V863.5Q1543.6 861 1546.1 861Q1548.6 861 1548.6 863.5V878.6ZM1549 878.6V866.1Q1549 863.6 1551.5 863.6Q1554 863.6 1554 866.1V878.6ZM1554.4 878.6V866.1Q1554.4 863.6 1556.9 863.6Q1559.4 863.6 1559.4 866.1V878.6ZM1559.8 878.6V868.4Q1559.8 865.9 1562.3 865.9Q1564.8 865.9 1564.8 868.4V878.6ZM1565.3 878.6V868.4Q1565.3 865.9 1567.8 865.9Q1570.3 865.9 1570.3 868.4V878.6ZM1570.7 878.6V858.4Q1570.7 855.9 1573.2 855.9Q1575.7 855.9 1575.7 858.4V878.6ZM1576.1 878.6V853.7Q1576.1 851.2 1578.6 851.2Q1581.1 851.2 1581.1 853.7V878.6ZM1581.5 878.6V868.4Q1581.5 865.9 1584 865.9Q1586.5 865.9 1586.5 868.4V878.6ZM1586.9 878.6V868.4Q1586.9 865.9 1589.4 865.9Q1591.9 865.9 1591.9 868.4V878.6ZM1592.3 878.6V871.1Q1592.3 868.6 1594.8 868.6Q1597.3 868.6 1597.3 871.1V878.6ZM1597.8 878.6V876.1Q1597.8 873.6 1600.3 873.6Q1602.8 873.6 1602.8 876.1V878.6ZM1603.2 878.6V871.1Q1603.2 868.6 1605.7 868.6Q1608.2 868.6 1608.2 871.1V878.6ZM1608.6 878.6V871.1Q1608.6 868.6 1611.1 868.6Q1613.6 868.6 1613.6 871.1V878.6ZM1614 878.6V873.6Q1614 871.1 1616.5 871.1Q1619 871.1 1619 873.6V878.6ZM1619.4 878.6V873.6Q1619.4 871.1 1621.9 871.1Q1624.4 871.1 1624.4 873.6V878.6ZM1624.8 878.6V871.1Q1624.8 868.6 1627.3 868.6Q1629.8 868.6 1629.8 871.1V878.6ZM1630.3 878.6V866.1Q1630.3 863.6 1632.8 863.6Q1635.3 863.6 1635.3 866.1V878.6ZM1635.7 878.6V873.6Q1635.7 871.1 1638.2 871.1Q1640.7 871.1 1640.7 873.6V878.6ZM1641.1 878.6V876.1Q1641.1 873.6 1643.6 873.6Q1646.1 873.6 1646.1 876.1V878.6ZM1646.5 878.6V871.1Q1646.5 868.6 1649 868.6Q1651.5 868.6 1651.5 871.1V878.6ZM1651.9 878.6V868.4Q1651.9 865.9 1654.4 865.9Q1656.9 865.9 1656.9 868.4V878.6ZM1657.4 878.6V868.4Q1657.4 865.9 1659.9 865.9Q1662.4 865.9 1662.4 868.4V878.6ZM1662.8 878.6V863.5Q1662.8 861 1665.3 861Q1667.8 861 1667.8 863.5V878.6ZM1668.2 878.6V868.4Q1668.2 865.9 1670.7 865.9Q1673.2 865.9 1673.2 868.4V878.6ZM1673.6 878.6V876.1Q1673.6 873.6 1676.1 873.6Q1678.6 873.6 1678.6 876.1V878.6ZM1679 878.6V868.4Q1679 865.9 1681.5 865.9Q1684 865.9 1684 868.4V878.6ZM1684.4 878.6V871.1Q1684.4 868.6 1686.9 868.6Q1689.4 868.6 1689.4 871.1V878.6ZM1689.9 878.6V866.1Q1689.9 863.6 1692.4 863.6Q1694.9 863.6 1694.9 866.1V878.6ZM1695.3 878.6V843.7Q1695.3 841.2 1697.8 841.2Q1700.3 841.2 1700.3 843.7V878.6ZM1700.7 878.6V863.5Q1700.7 861 1703.2 861Q1705.7 861 1705.7 863.5V878.6ZM1706.1 878.6V866.1Q1706.1 863.6 1708.6 863.6Q1711.1 863.6 1711.1 866.1V878.6ZM1711.5 878.6V866.1Q1711.5 863.6 1714 863.6Q1716.5 863.6 1716.5 866.1V878.6ZM1716.9 878.6V838.6Q1716.9 836.1 1719.4 836.1Q1721.9 836.1 1721.9 838.6V878.6ZM1722.4 878.6V813.5Q1722.4 811 1724.9 811Q1727.4 811 1727.4 813.5V878.6ZM1727.8 878.6V791.1Q1727.8 788.6 1730.3 788.6Q1732.8 788.6 1732.8 791.1V878.6ZM1733.2 878.6V793.7Q1733.2 791.2 1735.7 791.2Q1738.2 791.2 1738.2 793.7V878.6ZM1738.6 878.6V833.5Q1738.6 831 1741.1 831Q1743.6 831 1743.6 833.5V878.6ZM1744 878.6V848.6Q1744 846.1 1746.5 846.1Q1749 846.1 1749 848.6V878.6ZM1749.4 878.6V843.7Q1749.4 841.2 1751.9 841.2Q1754.4 841.2 1754.4 843.7V878.6ZM1754.9 878.6V853.7Q1754.9 851.2 1757.4 851.2Q1759.9 851.2 1759.9 853.7V878.6ZM1760.3 878.6V831.1Q1760.3 828.6 1762.8 828.6Q1765.3 828.6 1765.3 831.1V878.6ZM1765.7 878.6V856.1Q1765.7 853.6 1768.2 853.6Q1770.7 853.6 1770.7 856.1V878.6ZM1771.1 878.6V851.3Q1771.1 848.8 1773.6 848.8Q1776.1 848.8 1776.1 851.3V878.6ZM1776.5 878.6V841.1Q1776.5 838.6 1779 838.6Q1781.5 838.6 1781.5 841.1V878.6ZM1781.9 878.6V846.1Q1781.9 843.6 1784.4 843.6Q1786.9 843.6 1786.9 846.1V878.6ZM1787.4 878.6V803.7Q1787.4 801.2 1789.9 801.2Q1792.4 801.2 1792.4 803.7V878.6ZM1792.8 878.6V788.6Q1792.8 786.1 1795.3 786.1Q1797.8 786.1 1797.8 788.6V878.6ZM1798.2 878.6V811.1Q1798.2 808.6 1800.7 808.6Q1803.2 808.6 1803.2 811.1V878.6ZM1803.6 878.6V831.1Q1803.6 828.6 1806.1 828.6Q1808.6 828.6 1808.6 831.1V878.6ZM1809 878.6V831.1Q1809 828.6 1811.5 828.6Q1814 828.6 1814 831.1V878.6ZM1814.4 878.6V783.5Q1814.4 781 1816.9 781Q1819.4 781 1819.4 783.5V878.6ZM1819.9 878.6V811.1Q1819.9 808.6 1822.4 808.6Q1824.9 808.6 1824.9 811.1V878.6ZM1825.3 878.6V778.6Q1825.3 776.1 1827.8 776.1Q1830.3 776.1 1830.3 778.6V878.6ZM1830.7 878.6V826.3Q1830.7 823.8 1833.2 823.8Q1835.7 823.8 1835.7 826.3V878.6ZM1836.1 878.6V801.1Q1836.1 798.6 1838.6 798.6Q1841.1 798.6 1841.1 801.1V878.6ZM1841.5 878.6V796.1Q1841.5 793.6 1844 793.6Q1846.5 793.6 1846.5 796.1V878.6ZM1846.9 878.6V798.6Q1846.9 796.1 1849.4 796.1Q1851.9 796.1 1851.9 798.6V878.6ZM1852.4 878.6V778.6Q1852.4 776.1 1854.9 776.1Q1857.4 776.1 1857.4 778.6V878.6ZM1857.8 878.6V778.6Q1857.8 776.1 1860.3 776.1Q1862.8 776.1 1862.8 778.6V878.6ZM1863.2 878.6V843.7Q1863.2 841.2 1865.7 841.2Q1868.2 841.2 1868.2 843.7V878.6ZM1868.6 878.6V846.1Q1868.6 843.6 1871.1 843.6Q1873.6 843.6 1873.6 846.1V878.6ZM1874 878.6V793.7Q1874 791.2 1876.5 791.2Q1879 791.2 1879 793.7V878.6ZM1879.4 878.6V806.1Q1879.4 803.6 1881.9 803.6Q1884.4 803.6 1884.4 806.1V878.6ZM1884.9 878.6V836.1Q1884.9 833.6 1887.4 833.6Q1889.9 833.6 1889.9 836.1V878.6ZM1890.3 878.6V836.1Q1890.3 833.6 1892.8 833.6Q1895.3 833.6 1895.3 836.1V878.6ZM1895.7 878.6V851.3Q1895.7 848.8 1898.2 848.8Q1900.7 848.8 1900.7 851.3V878.6ZM1901.1 878.6V851.3Q1901.1 848.8 1903.6 848.8Q1906.1 848.8 1906.1 851.3V878.6ZM1906.5 878.6V851.3Q1906.5 848.8 1909 848.8Q1911.5 848.8 1911.5 851.3V878.6ZM1912 878.6V843.7Q1912 841.2 1914.5 841.2Q1917 841.2 1917 843.7V878.6ZM1917.4 878.6V846.1Q1917.4 843.6 1919.9 843.6Q1922.4 843.6 1922.4 846.1V878.6ZM1922.8 878.6V833.5Q1922.8 831 1925.3 831Q1927.8 831 1927.8 833.5V878.6ZM1928.2 878.6V816.3Q1928.2 813.8 1930.7 813.8Q1933.2 813.8 1933.2 816.3V878.6ZM1933.6 878.6V821.1Q1933.6 818.6 1936.1 818.6Q1938.6 818.6 1938.6 821.1V878.6ZM1939 878.6V846.1Q1939 843.6 1941.5 843.6Q1944 843.6 1944 846.1V878.6ZM1944.5 878.6V856.1Q1944.5 853.6 1947 853.6Q1949.5 853.6 1949.5 856.1V878.6ZM1949.9 878.6V843.7Q1949.9 841.2 1952.4 841.2Q1954.9 841.2 1954.9 843.7V878.6ZM1955.3 878.6V851.3Q1955.3 848.8 1957.8 848.8Q1960.3 848.8 1960.3 851.3V878.6ZM1960.7 878.6V861.3Q1960.7 858.8 1963.2 858.8Q1965.7 858.8 1965.7 861.3V878.6ZM1966.1 878.6V861.3Q1966.1 858.8 1968.6 858.8Q1971.1 858.8 1971.1 861.3V878.6ZM1971.5 878.6V853.7Q1971.5 851.2 1974 851.2Q1976.5 851.2 1976.5 853.7V878.6ZM1977 878.6V861.3Q1977 858.8 1979.5 858.8Q1982 858.8 1982 861.3V878.6ZM1982.4 878.6V863.5Q1982.4 861 1984.9 861Q1987.4 861 1987.4 863.5V878.6ZM1987.8 878.6V856.1Q1987.8 853.6 1990.3 853.6Q1992.8 853.6 1992.8 856.1V878.6ZM1993.2 878.6V856.1Q1993.2 853.6 1995.7 853.6Q1998.2 853.6 1998.2 856.1V878.6Z" fill="#eef1f5"/></g>
<rect x="21" y="208.25" width="1978" height="2.5" fill="#f0f0f0"/><rect x="21" y="388.25" width="1978" height="2.5" fill="#f0f0f0"/><rect x="21" y="570.25" width="1978" height="2.5" fill="#f0f0f0"/><rect x="21" y="750.25" width="1978" height="2.5" fill="#f0f0f0"/>
<rect x="18.5" y="24" width="2.5" height="857" fill="#f1f1f1"/>
<rect x="1998.5" y="24" width="2.5" height="857" fill="#f1f1f1"/>
<rect x="19" y="879" width="1982" height="2" fill="#f0f0f0"/>
<rect x="21" y="23.6" width="1980" height="2.4" fill="#e5e5e5"/>
<g clip-path="url(#up)"><path d="M18.5 618.4 L23.9 618.4 L29.3 620.5 L34.8 633.5 L40.2 629 L45.6 625 L51 633 L56.4 639.5 L61.8 634 L67.3 628 L72.7 630 L78.1 632 L83.5 630 L88.9 633 L94.3 632 L99.8 626 L105.2 626 L110.6 630 L116 638.5 L121.4 640 L126.8 640.5 L132.3 642 L137.7 649.6 L143.1 647.4 L148.5 642 L153.9 646.2 L159.3 640.3 L164.8 637.2 L170.2 642 L175.6 636.9 L181 642 L186.4 647.9 L191.8 653 L197.3 647.4 L202.7 648.8 L208.1 656.4 L213.5 655.9 L218.9 655.6 L224.3 649.6 L229.8 649.6 L235.2 640.6 L240.6 637.4 L246 636.5 L251.4 629.2 L256.8 629.2 L262.3 627 L267.7 632.6 L273.1 621 L278.5 607.3 L283.9 600.4 L289.3 573 L294.8 558.4 L300.2 543.8 L305.6 551.9 L311 559.6 L316.4 555.1 L321.9 550.9 L327.3 548.3 L332.7 556.6 L338.1 504.4 L343.5 486.3 L348.9 439 L354.4 423.2 L359.8 429 L365.2 439 L370.6 437.3 L376 312.1 L381.4 280.7 L386.9 250.6 L392.3 192.3 L397.7 248 L403.1 260.6 L408.5 264.9 L413.9 268.9 L419.4 234.2 L424.8 265.6 L430.2 313.4 L435.6 240.5 L441 299.5 L446.4 320.9 L451.9 251.8 L457.3 294.5 L462.7 311.4 L468.1 312.9 L473.5 283.2 L478.9 268.1 L484.4 238 L489.8 187.7 L495.2 158.8 L500.6 188.2 L506 169.4 L511.4 196.5 L516.9 226.7 L522.3 265.6 L527.7 282.5 L533.1 261.9 L538.5 277.4 L543.9 274.4 L549.4 261.9 L554.8 241 L560.2 282 L565.6 268.1 L571 288.8 L576.5 363 L581.9 396.4 L587.3 347.9 L592.7 379.3 L598.1 368.5 L603.5 391.9 L609 379.8 L614.4 368.7 L619.8 299.6 L625.2 312.7 L630.6 303.4 L636 307.2 L641.5 339.6 L646.9 334.6 L652.3 360.5 L657.7 354.9 L663.1 359.2 L668.5 357.9 L674 384.3 L679.4 386.1 L684.8 388.6 L690.2 357.2 L695.6 359.7 L701 323.3 L706.5 319.5 L711.9 327.3 L717.3 361 L722.7 340.4 L728.1 349.9 L733.5 353.4 L739 357.9 L744.4 366.7 L749.8 388.6 L755.2 342.4 L760.6 337.8 L766 325.3 L771.5 338.3 L776.9 352.4 L782.3 311.5 L787.7 292.6 L793.1 290.6 L798.5 322.8 L804 332.3 L809.4 334.1 L814.8 346.1 L820.2 333.6 L825.6 344.6 L831 353.7 L836.5 354.9 L841.9 362.5 L847.3 368.7 L852.7 373 L858.1 363.5 L863.6 365.1 L869 360.1 L874.4 379.7 L879.8 416.6 L885.2 434.2 L890.6 436 L896.1 450.6 L901.5 472.7 L906.9 439.2 L912.3 463.1 L917.7 482.7 L923.1 486.5 L928.6 483.7 L934 509.6 L939.4 534 L944.8 477.7 L950.2 460.1 L955.6 463.1 L961.1 484.5 L966.5 497 L971.9 454.8 L977.3 463.1 L982.7 428.7 L988.1 469.4 L993.6 496.3 L999 507.6 L1004.4 491.5 L1009.8 516.6 L1015.2 512.1 L1020.6 524.7 L1026.1 528.9 L1031.5 540.5 L1036.9 527.2 L1042.3 549.3 L1047.7 541 L1053.1 532.7 L1058.6 534.7 L1064 543.5 L1069.4 534.7 L1074.8 539.7 L1080.2 524.7 L1085.6 493.3 L1091.1 491.3 L1096.5 487 L1101.9 497 L1107.3 483.7 L1112.7 485.7 L1118.2 480.7 L1123.6 502.8 L1129 516.8 L1134.4 530.7 L1139.8 533.9 L1145.2 518.1 L1150.7 518.8 L1156.1 524.4 L1161.5 530.2 L1166.9 534.9 L1172.3 541.5 L1177.7 543.7 L1183.2 557 L1188.6 570.9 L1194 583.4 L1199.4 607.3 L1204.8 597.2 L1210.2 605.3 L1215.7 590.2 L1221.1 596 L1226.5 587.7 L1231.9 602.8 L1237.3 594 L1242.7 591.5 L1248.2 592.2 L1253.6 600.3 L1259 600.5 L1264.4 598.5 L1269.8 603 L1275.2 584.7 L1280.7 592.7 L1286.1 577.1 L1291.5 566.3 L1296.9 532.4 L1302.3 521.4 L1307.7 503 L1313.2 508.5 L1318.6 516.8 L1324 535.2 L1329.4 547.5 L1334.8 533.7 L1340.2 545.7 L1345.7 544 L1351.1 526.4 L1356.5 547.7 L1361.9 544.5 L1367.3 555 L1372.8 557.5 L1378.2 558.3 L1383.6 551.5 L1389 531.4 L1394.4 507.5 L1399.8 505 L1405.3 501.1 L1410.7 501.4 L1416.1 496.1 L1421.5 509.4 L1426.9 522.5 L1432.3 506.9 L1437.8 488.5 L1443.2 481.3 L1448.6 454.6 L1454 454.9 L1459.4 457.9 L1464.8 452.4 L1470.3 441.1 L1475.7 454.1 L1481.1 454.9 L1486.5 445.8 L1491.9 460.4 L1497.3 457.4 L1502.8 473.7 L1508.2 481.8 L1513.6 493.1 L1519 502.6 L1524.4 484.8 L1529.8 496.1 L1535.3 483.8 L1540.7 483.8 L1546.1 493.6 L1551.5 507.6 L1556.9 511.9 L1562.3 495.1 L1567.8 483 L1573.2 493.6 L1578.6 476 L1584 485.5 L1589.4 492.3 L1594.8 504.9 L1600.3 491.3 L1605.7 495.6 L1611.1 486 L1616.5 499.3 L1621.9 505.1 L1627.3 510.7 L1632.8 508.1 L1638.2 532 L1643.6 527 L1649 520.7 L1654.4 519.9 L1659.9 508.9 L1665.3 515.7 L1670.7 516.4 L1676.1 528.2 L1681.5 536.3 L1686.9 544.1 L1692.4 546.3 L1697.8 523.2 L1703.2 493.8 L1708.6 495.8 L1714 497.8 L1719.4 484.5 L1724.9 488.7 L1730.3 463.9 L1735.7 498.3 L1741.1 520.9 L1746.5 527.9 L1751.9 517.9 L1757.4 511.4 L1762.8 523.4 L1768.2 505.1 L1773.6 515.9 L1779 527.2 L1784.4 520.2 L1789.9 518.4 L1795.3 492 L1800.7 473.9 L1806.1 490.8 L1811.5 501.6 L1816.9 478.2 L1822.4 446.8 L1827.8 438.7 L1833.2 404.6 L1838.6 417.9 L1844 397.8 L1849.4 402.8 L1854.9 412.9 L1860.3 396.5 L1865.7 364.4 L1871.1 372.2 L1876.5 377.2 L1881.9 440 L1887.4 446 L1892.8 420.9 L1898.2 426.7 L1903.6 424.2 L1909 437.5 L1914.5 422.9 L1919.9 440.5 L1925.3 458.1 L1930.7 488.2 L1936.1 513.9 L1941.5 500.8 L1947 520.9 L1952.4 524.2 L1957.8 502.6 L1963.2 497.5 L1968.6 506.3 L1974 522.2 L1979.5 512.8 L1984.9 503.5 L1990.3 516.4 L1998 518.6 L1998 618.5 L18.5 618.5 Z" fill="url(#gg)"/><path d="M18.5 618.4 L23.9 618.4 L29.3 620.5 L34.8 633.5 L40.2 629 L45.6 625 L51 633 L56.4 639.5 L61.8 634 L67.3 628 L72.7 630 L78.1 632 L83.5 630 L88.9 633 L94.3 632 L99.8 626 L105.2 626 L110.6 630 L116 638.5 L121.4 640 L126.8 640.5 L132.3 642 L137.7 649.6 L143.1 647.4 L148.5 642 L153.9 646.2 L159.3 640.3 L164.8 637.2 L170.2 642 L175.6 636.9 L181 642 L186.4 647.9 L191.8 653 L197.3 647.4 L202.7 648.8 L208.1 656.4 L213.5 655.9 L218.9 655.6 L224.3 649.6 L229.8 649.6 L235.2 640.6 L240.6 637.4 L246 636.5 L251.4 629.2 L256.8 629.2 L262.3 627 L267.7 632.6 L273.1 621 L278.5 607.3 L283.9 600.4 L289.3 573 L294.8 558.4 L300.2 543.8 L305.6 551.9 L311 559.6 L316.4 555.1 L321.9 550.9 L327.3 548.3 L332.7 556.6 L338.1 504.4 L343.5 486.3 L348.9 439 L354.4 423.2 L359.8 429 L365.2 439 L370.6 437.3 L376 312.1 L381.4 280.7 L386.9 250.6 L392.3 192.3 L397.7 248 L403.1 260.6 L408.5 264.9 L413.9 268.9 L419.4 234.2 L424.8 265.6 L430.2 313.4 L435.6 240.5 L441 299.5 L446.4 320.9 L451.9 251.8 L457.3 294.5 L462.7 311.4 L468.1 312.9 L473.5 283.2 L478.9 268.1 L484.4 238 L489.8 187.7 L495.2 158.8 L500.6 188.2 L506 169.4 L511.4 196.5 L516.9 226.7 L522.3 265.6 L527.7 282.5 L533.1 261.9 L538.5 277.4 L543.9 274.4 L549.4 261.9 L554.8 241 L560.2 282 L565.6 268.1 L571 288.8 L576.5 363 L581.9 396.4 L587.3 347.9 L592.7 379.3 L598.1 368.5 L603.5 391.9 L609 379.8 L614.4 368.7 L619.8 299.6 L625.2 312.7 L630.6 303.4 L636 307.2 L641.5 339.6 L646.9 334.6 L652.3 360.5 L657.7 354.9 L663.1 359.2 L668.5 357.9 L674 384.3 L679.4 386.1 L684.8 388.6 L690.2 357.2 L695.6 359.7 L701 323.3 L706.5 319.5 L711.9 327.3 L717.3 361 L722.7 340.4 L728.1 349.9 L733.5 353.4 L739 357.9 L744.4 366.7 L749.8 388.6 L755.2 342.4 L760.6 337.8 L766 325.3 L771.5 338.3 L776.9 352.4 L782.3 311.5 L787.7 292.6 L793.1 290.6 L798.5 322.8 L804 332.3 L809.4 334.1 L814.8 346.1 L820.2 333.6 L825.6 344.6 L831 353.7 L836.5 354.9 L841.9 362.5 L847.3 368.7 L852.7 373 L858.1 363.5 L863.6 365.1 L869 360.1 L874.4 379.7 L879.8 416.6 L885.2 434.2 L890.6 436 L896.1 450.6 L901.5 472.7 L906.9 439.2 L912.3 463.1 L917.7 482.7 L923.1 486.5 L928.6 483.7 L934 509.6 L939.4 534 L944.8 477.7 L950.2 460.1 L955.6 463.1 L961.1 484.5 L966.5 497 L971.9 454.8 L977.3 463.1 L982.7 428.7 L988.1 469.4 L993.6 496.3 L999 507.6 L1004.4 491.5 L1009.8 516.6 L1015.2 512.1 L1020.6 524.7 L1026.1 528.9 L1031.5 540.5 L1036.9 527.2 L1042.3 549.3 L1047.7 541 L1053.1 532.7 L1058.6 534.7 L1064 543.5 L1069.4 534.7 L1074.8 539.7 L1080.2 524.7 L1085.6 493.3 L1091.1 491.3 L1096.5 487 L1101.9 497 L1107.3 483.7 L1112.7 485.7 L1118.2 480.7 L1123.6 502.8 L1129 516.8 L1134.4 530.7 L1139.8 533.9 L1145.2 518.1 L1150.7 518.8 L1156.1 524.4 L1161.5 530.2 L1166.9 534.9 L1172.3 541.5 L1177.7 543.7 L1183.2 557 L1188.6 570.9 L1194 583.4 L1199.4 607.3 L1204.8 597.2 L1210.2 605.3 L1215.7 590.2 L1221.1 596 L1226.5 587.7 L1231.9 602.8 L1237.3 594 L1242.7 591.5 L1248.2 592.2 L1253.6 600.3 L1259 600.5 L1264.4 598.5 L1269.8 603 L1275.2 584.7 L1280.7 592.7 L1286.1 577.1 L1291.5 566.3 L1296.9 532.4 L1302.3 521.4 L1307.7 503 L1313.2 508.5 L1318.6 516.8 L1324 535.2 L1329.4 547.5 L1334.8 533.7 L1340.2 545.7 L1345.7 544 L1351.1 526.4 L1356.5 547.7 L1361.9 544.5 L1367.3 555 L1372.8 557.5 L1378.2 558.3 L1383.6 551.5 L1389 531.4 L1394.4 507.5 L1399.8 505 L1405.3 501.1 L1410.7 501.4 L1416.1 496.1 L1421.5 509.4 L1426.9 522.5 L1432.3 506.9 L1437.8 488.5 L1443.2 481.3 L1448.6 454.6 L1454 454.9 L1459.4 457.9 L1464.8 452.4 L1470.3 441.1 L1475.7 454.1 L1481.1 454.9 L1486.5 445.8 L1491.9 460.4 L1497.3 457.4 L1502.8 473.7 L1508.2 481.8 L1513.6 493.1 L1519 502.6 L1524.4 484.8 L1529.8 496.1 L1535.3 483.8 L1540.7 483.8 L1546.1 493.6 L1551.5 507.6 L1556.9 511.9 L1562.3 495.1 L1567.8 483 L1573.2 493.6 L1578.6 476 L1584 485.5 L1589.4 492.3 L1594.8 504.9 L1600.3 491.3 L1605.7 495.6 L1611.1 486 L1616.5 499.3 L1621.9 505.1 L1627.3 510.7 L1632.8 508.1 L1638.2 532 L1643.6 527 L1649 520.7 L1654.4 519.9 L1659.9 508.9 L1665.3 515.7 L1670.7 516.4 L1676.1 528.2 L1681.5 536.3 L1686.9 544.1 L1692.4 546.3 L1697.8 523.2 L1703.2 493.8 L1708.6 495.8 L1714 497.8 L1719.4 484.5 L1724.9 488.7 L1730.3 463.9 L1735.7 498.3 L1741.1 520.9 L1746.5 527.9 L1751.9 517.9 L1757.4 511.4 L1762.8 523.4 L1768.2 505.1 L1773.6 515.9 L1779 527.2 L1784.4 520.2 L1789.9 518.4 L1795.3 492 L1800.7 473.9 L1806.1 490.8 L1811.5 501.6 L1816.9 478.2 L1822.4 446.8 L1827.8 438.7 L1833.2 404.6 L1838.6 417.9 L1844 397.8 L1849.4 402.8 L1854.9 412.9 L1860.3 396.5 L1865.7 364.4 L1871.1 372.2 L1876.5 377.2 L1881.9 440 L1887.4 446 L1892.8 420.9 L1898.2 426.7 L1903.6 424.2 L1909 437.5 L1914.5 422.9 L1919.9 440.5 L1925.3 458.1 L1930.7 488.2 L1936.1 513.9 L1941.5 500.8 L1947 520.9 L1952.4 524.2 L1957.8 502.6 L1963.2 497.5 L1968.6 506.3 L1974 522.2 L1979.5 512.8 L1984.9 503.5 L1990.3 516.4 L1998 518.6" fill="none" stroke="#16c784" stroke-width="4.8" stroke-linejoin="round" stroke-linecap="round"/></g>
<g clip-path="url(#dn)"><path d="M18.5 618.4 L23.9 618.4 L29.3 620.5 L34.8 633.5 L40.2 629 L45.6 625 L51 633 L56.4 639.5 L61.8 634 L67.3 628 L72.7 630 L78.1 632 L83.5 630 L88.9 633 L94.3 632 L99.8 626 L105.2 626 L110.6 630 L116 638.5 L121.4 640 L126.8 640.5 L132.3 642 L137.7 649.6 L143.1 647.4 L148.5 642 L153.9 646.2 L159.3 640.3 L164.8 637.2 L170.2 642 L175.6 636.9 L181 642 L186.4 647.9 L191.8 653 L197.3 647.4 L202.7 648.8 L208.1 656.4 L213.5 655.9 L218.9 655.6 L224.3 649.6 L229.8 649.6 L235.2 640.6 L240.6 637.4 L246 636.5 L251.4 629.2 L256.8 629.2 L262.3 627 L267.7 632.6 L273.1 621 L278.5 607.3 L283.9 600.4 L289.3 573 L294.8 558.4 L300.2 543.8 L305.6 551.9 L311 559.6 L316.4 555.1 L321.9 550.9 L327.3 548.3 L332.7 556.6 L338.1 504.4 L343.5 486.3 L348.9 439 L354.4 423.2 L359.8 429 L365.2 439 L370.6 437.3 L376 312.1 L381.4 280.7 L386.9 250.6 L392.3 192.3 L397.7 248 L403.1 260.6 L408.5 264.9 L413.9 268.9 L419.4 234.2 L424.8 265.6 L430.2 313.4 L435.6 240.5 L441 299.5 L446.4 320.9 L451.9 251.8 L457.3 294.5 L462.7 311.4 L468.1 312.9 L473.5 283.2 L478.9 268.1 L484.4 238 L489.8 187.7 L495.2 158.8 L500.6 188.2 L506 169.4 L511.4 196.5 L516.9 226.7 L522.3 265.6 L527.7 282.5 L533.1 261.9 L538.5 277.4 L543.9 274.4 L549.4 261.9 L554.8 241 L560.2 282 L565.6 268.1 L571 288.8 L576.5 363 L581.9 396.4 L587.3 347.9 L592.7 379.3 L598.1 368.5 L603.5 391.9 L609 379.8 L614.4 368.7 L619.8 299.6 L625.2 312.7 L630.6 303.4 L636 307.2 L641.5 339.6 L646.9 334.6 L652.3 360.5 L657.7 354.9 L663.1 359.2 L668.5 357.9 L674 384.3 L679.4 386.1 L684.8 388.6 L690.2 357.2 L695.6 359.7 L701 323.3 L706.5 319.5 L711.9 327.3 L717.3 361 L722.7 340.4 L728.1 349.9 L733.5 353.4 L739 357.9 L744.4 366.7 L749.8 388.6 L755.2 342.4 L760.6 337.8 L766 325.3 L771.5 338.3 L776.9 352.4 L782.3 311.5 L787.7 292.6 L793.1 290.6 L798.5 322.8 L804 332.3 L809.4 334.1 L814.8 346.1 L820.2 333.6 L825.6 344.6 L831 353.7 L836.5 354.9 L841.9 362.5 L847.3 368.7 L852.7 373 L858.1 363.5 L863.6 365.1 L869 360.1 L874.4 379.7 L879.8 416.6 L885.2 434.2 L890.6 436 L896.1 450.6 L901.5 472.7 L906.9 439.2 L912.3 463.1 L917.7 482.7 L923.1 486.5 L928.6 483.7 L934 509.6 L939.4 534 L944.8 477.7 L950.2 460.1 L955.6 463.1 L961.1 484.5 L966.5 497 L971.9 454.8 L977.3 463.1 L982.7 428.7 L988.1 469.4 L993.6 496.3 L999 507.6 L1004.4 491.5 L1009.8 516.6 L1015.2 512.1 L1020.6 524.7 L1026.1 528.9 L1031.5 540.5 L1036.9 527.2 L1042.3 549.3 L1047.7 541 L1053.1 532.7 L1058.6 534.7 L1064 543.5 L1069.4 534.7 L1074.8 539.7 L1080.2 524.7 L1085.6 493.3 L1091.1 491.3 L1096.5 487 L1101.9 497 L1107.3 483.7 L1112.7 485.7 L1118.2 480.7 L1123.6 502.8 L1129 516.8 L1134.4 530.7 L1139.8 533.9 L1145.2 518.1 L1150.7 518.8 L1156.1 524.4 L1161.5 530.2 L1166.9 534.9 L1172.3 541.5 L1177.7 543.7 L1183.2 557 L1188.6 570.9 L1194 583.4 L1199.4 607.3 L1204.8 597.2 L1210.2 605.3 L1215.7 590.2 L1221.1 596 L1226.5 587.7 L1231.9 602.8 L1237.3 594 L1242.7 591.5 L1248.2 592.2 L1253.6 600.3 L1259 600.5 L1264.4 598.5 L1269.8 603 L1275.2 584.7 L1280.7 592.7 L1286.1 577.1 L1291.5 566.3 L1296.9 532.4 L1302.3 521.4 L1307.7 503 L1313.2 508.5 L1318.6 516.8 L1324 535.2 L1329.4 547.5 L1334.8 533.7 L1340.2 545.7 L1345.7 544 L1351.1 526.4 L1356.5 547.7 L1361.9 544.5 L1367.3 555 L1372.8 557.5 L1378.2 558.3 L1383.6 551.5 L1389 531.4 L1394.4 507.5 L1399.8 505 L1405.3 501.1 L1410.7 501.4 L1416.1 496.1 L1421.5 509.4 L1426.9 522.5 L1432.3 506.9 L1437.8 488.5 L1443.2 481.3 L1448.6 454.6 L1454 454.9 L1459.4 457.9 L1464.8 452.4 L1470.3 441.1 L1475.7 454.1 L1481.1 454.9 L1486.5 445.8 L1491.9 460.4 L1497.3 457.4 L1502.8 473.7 L1508.2 481.8 L1513.6 493.1 L1519 502.6 L1524.4 484.8 L1529.8 496.1 L1535.3 483.8 L1540.7 483.8 L1546.1 493.6 L1551.5 507.6 L1556.9 511.9 L1562.3 495.1 L1567.8 483 L1573.2 493.6 L1578.6 476 L1584 485.5 L1589.4 492.3 L1594.8 504.9 L1600.3 491.3 L1605.7 495.6 L1611.1 486 L1616.5 499.3 L1621.9 505.1 L1627.3 510.7 L1632.8 508.1 L1638.2 532 L1643.6 527 L1649 520.7 L1654.4 519.9 L1659.9 508.9 L1665.3 515.7 L1670.7 516.4 L1676.1 528.2 L1681.5 536.3 L1686.9 544.1 L1692.4 546.3 L1697.8 523.2 L1703.2 493.8 L1708.6 495.8 L1714 497.8 L1719.4 484.5 L1724.9 488.7 L1730.3 463.9 L1735.7 498.3 L1741.1 520.9 L1746.5 527.9 L1751.9 517.9 L1757.4 511.4 L1762.8 523.4 L1768.2 505.1 L1773.6 515.9 L1779 527.2 L1784.4 520.2 L1789.9 518.4 L1795.3 492 L1800.7 473.9 L1806.1 490.8 L1811.5 501.6 L1816.9 478.2 L1822.4 446.8 L1827.8 438.7 L1833.2 404.6 L1838.6 417.9 L1844 397.8 L1849.4 402.8 L1854.9 412.9 L1860.3 396.5 L1865.7 364.4 L1871.1 372.2 L1876.5 377.2 L1881.9 440 L1887.4 446 L1892.8 420.9 L1898.2 426.7 L1903.6 424.2 L1909 437.5 L1914.5 422.9 L1919.9 440.5 L1925.3 458.1 L1930.7 488.2 L1936.1 513.9 L1941.5 500.8 L1947 520.9 L1952.4 524.2 L1957.8 502.6 L1963.2 497.5 L1968.6 506.3 L1974 522.2 L1979.5 512.8 L1984.9 503.5 L1990.3 516.4 L1998 518.6 L1998 618.5 L18.5 618.5 Z" fill="#ea3943" fill-opacity="0.25"/><path d="M18.5 618.4 L23.9 618.4 L29.3 620.5 L34.8 633.5 L40.2 629 L45.6 625 L51 633 L56.4 639.5 L61.8 634 L67.3 628 L72.7 630 L78.1 632 L83.5 630 L88.9 633 L94.3 632 L99.8 626 L105.2 626 L110.6 630 L116 638.5 L121.4 640 L126.8 640.5 L132.3 642 L137.7 649.6 L143.1 647.4 L148.5 642 L153.9 646.2 L159.3 640.3 L164.8 637.2 L170.2 642 L175.6 636.9 L181 642 L186.4 647.9 L191.8 653 L197.3 647.4 L202.7 648.8 L208.1 656.4 L213.5 655.9 L218.9 655.6 L224.3 649.6 L229.8 649.6 L235.2 640.6 L240.6 637.4 L246 636.5 L251.4 629.2 L256.8 629.2 L262.3 627 L267.7 632.6 L273.1 621 L278.5 607.3 L283.9 600.4 L289.3 573 L294.8 558.4 L300.2 543.8 L305.6 551.9 L311 559.6 L316.4 555.1 L321.9 550.9 L327.3 548.3 L332.7 556.6 L338.1 504.4 L343.5 486.3 L348.9 439 L354.4 423.2 L359.8 429 L365.2 439 L370.6 437.3 L376 312.1 L381.4 280.7 L386.9 250.6 L392.3 192.3 L397.7 248 L403.1 260.6 L408.5 264.9 L413.9 268.9 L419.4 234.2 L424.8 265.6 L430.2 313.4 L435.6 240.5 L441 299.5 L446.4 320.9 L451.9 251.8 L457.3 294.5 L462.7 311.4 L468.1 312.9 L473.5 283.2 L478.9 268.1 L484.4 238 L489.8 187.7 L495.2 158.8 L500.6 188.2 L506 169.4 L511.4 196.5 L516.9 226.7 L522.3 265.6 L527.7 282.5 L533.1 261.9 L538.5 277.4 L543.9 274.4 L549.4 261.9 L554.8 241 L560.2 282 L565.6 268.1 L571 288.8 L576.5 363 L581.9 396.4 L587.3 347.9 L592.7 379.3 L598.1 368.5 L603.5 391.9 L609 379.8 L614.4 368.7 L619.8 299.6 L625.2 312.7 L630.6 303.4 L636 307.2 L641.5 339.6 L646.9 334.6 L652.3 360.5 L657.7 354.9 L663.1 359.2 L668.5 357.9 L674 384.3 L679.4 386.1 L684.8 388.6 L690.2 357.2 L695.6 359.7 L701 323.3 L706.5 319.5 L711.9 327.3 L717.3 361 L722.7 340.4 L728.1 349.9 L733.5 353.4 L739 357.9 L744.4 366.7 L749.8 388.6 L755.2 342.4 L760.6 337.8 L766 325.3 L771.5 338.3 L776.9 352.4 L782.3 311.5 L787.7 292.6 L793.1 290.6 L798.5 322.8 L804 332.3 L809.4 334.1 L814.8 346.1 L820.2 333.6 L825.6 344.6 L831 353.7 L836.5 354.9 L841.9 362.5 L847.3 368.7 L852.7 373 L858.1 363.5 L863.6 365.1 L869 360.1 L874.4 379.7 L879.8 416.6 L885.2 434.2 L890.6 436 L896.1 450.6 L901.5 472.7 L906.9 439.2 L912.3 463.1 L917.7 482.7 L923.1 486.5 L928.6 483.7 L934 509.6 L939.4 534 L944.8 477.7 L950.2 460.1 L955.6 463.1 L961.1 484.5 L966.5 497 L971.9 454.8 L977.3 463.1 L982.7 428.7 L988.1 469.4 L993.6 496.3 L999 507.6 L1004.4 491.5 L1009.8 516.6 L1015.2 512.1 L1020.6 524.7 L1026.1 528.9 L1031.5 540.5 L1036.9 527.2 L1042.3 549.3 L1047.7 541 L1053.1 532.7 L1058.6 534.7 L1064 543.5 L1069.4 534.7 L1074.8 539.7 L1080.2 524.7 L1085.6 493.3 L1091.1 491.3 L1096.5 487 L1101.9 497 L1107.3 483.7 L1112.7 485.7 L1118.2 480.7 L1123.6 502.8 L1129 516.8 L1134.4 530.7 L1139.8 533.9 L1145.2 518.1 L1150.7 518.8 L1156.1 524.4 L1161.5 530.2 L1166.9 534.9 L1172.3 541.5 L1177.7 543.7 L1183.2 557 L1188.6 570.9 L1194 583.4 L1199.4 607.3 L1204.8 597.2 L1210.2 605.3 L1215.7 590.2 L1221.1 596 L1226.5 587.7 L1231.9 602.8 L1237.3 594 L1242.7 591.5 L1248.2 592.2 L1253.6 600.3 L1259 600.5 L1264.4 598.5 L1269.8 603 L1275.2 584.7 L1280.7 592.7 L1286.1 577.1 L1291.5 566.3 L1296.9 532.4 L1302.3 521.4 L1307.7 503 L1313.2 508.5 L1318.6 516.8 L1324 535.2 L1329.4 547.5 L1334.8 533.7 L1340.2 545.7 L1345.7 544 L1351.1 526.4 L1356.5 547.7 L1361.9 544.5 L1367.3 555 L1372.8 557.5 L1378.2 558.3 L1383.6 551.5 L1389 531.4 L1394.4 507.5 L1399.8 505 L1405.3 501.1 L1410.7 501.4 L1416.1 496.1 L1421.5 509.4 L1426.9 522.5 L1432.3 506.9 L1437.8 488.5 L1443.2 481.3 L1448.6 454.6 L1454 454.9 L1459.4 457.9 L1464.8 452.4 L1470.3 441.1 L1475.7 454.1 L1481.1 454.9 L1486.5 445.8 L1491.9 460.4 L1497.3 457.4 L1502.8 473.7 L1508.2 481.8 L1513.6 493.1 L1519 502.6 L1524.4 484.8 L1529.8 496.1 L1535.3 483.8 L1540.7 483.8 L1546.1 493.6 L1551.5 507.6 L1556.9 511.9 L1562.3 495.1 L1567.8 483 L1573.2 493.6 L1578.6 476 L1584 485.5 L1589.4 492.3 L1594.8 504.9 L1600.3 491.3 L1605.7 495.6 L1611.1 486 L1616.5 499.3 L1621.9 505.1 L1627.3 510.7 L1632.8 508.1 L1638.2 532 L1643.6 527 L1649 520.7 L1654.4 519.9 L1659.9 508.9 L1665.3 515.7 L1670.7 516.4 L1676.1 528.2 L1681.5 536.3 L1686.9 544.1 L1692.4 546.3 L1697.8 523.2 L1703.2 493.8 L1708.6 495.8 L1714 497.8 L1719.4 484.5 L1724.9 488.7 L1730.3 463.9 L1735.7 498.3 L1741.1 520.9 L1746.5 527.9 L1751.9 517.9 L1757.4 511.4 L1762.8 523.4 L1768.2 505.1 L1773.6 515.9 L1779 527.2 L1784.4 520.2 L1789.9 518.4 L1795.3 492 L1800.7 473.9 L1806.1 490.8 L1811.5 501.6 L1816.9 478.2 L1822.4 446.8 L1827.8 438.7 L1833.2 404.6 L1838.6 417.9 L1844 397.8 L1849.4 402.8 L1854.9 412.9 L1860.3 396.5 L1865.7 364.4 L1871.1 372.2 L1876.5 377.2 L1881.9 440 L1887.4 446 L1892.8 420.9 L1898.2 426.7 L1903.6 424.2 L1909 437.5 L1914.5 422.9 L1919.9 440.5 L1925.3 458.1 L1930.7 488.2 L1936.1 513.9 L1941.5 500.8 L1947 520.9 L1952.4 524.2 L1957.8 502.6 L1963.2 497.5 L1968.6 506.3 L1974 522.2 L1979.5 512.8 L1984.9 503.5 L1990.3 516.4 L1998 518.6" fill="none" stroke="#ea3943" stroke-width="4.8" stroke-linejoin="round" stroke-linecap="round"/></g>
<line x1="21.2" y1="619.6" x2="1999" y2="619.6" stroke="#858585" stroke-width="2.2" stroke-dasharray="2.5 7.5"/>
<rect x="26" y="600" width="106" height="48" fill="#fff" fill-opacity="0.9"/>
<text x="36.4" y="634.2" font-size="30.4" fill="#58667e" stroke="#58667e" stroke-width="0.3" textLength="86.4" lengthAdjust="spacingAndGlyphs">0.7317</text>
<g fill="none" stroke="#9fadc9" stroke-width="5.4" stroke-linecap="round" stroke-linejoin="round" opacity="0.5">
<path d="M1659 778.2A27 27 0 1 1 1667.5 758.4C1667.5 764 1664.8 767.6 1660.8 767.6C1657 767.6 1654.6 764.6 1654.6 760L1654.5 752.5Q1654.3 749.6 1652.6 750.6L1641.8 766.2Q1639.2 769.3 1638.3 764.5L1637.9 750Q1637.3 745.9 1635.3 748.6L1620.9 772.3"/>
</g>
<text x="1689.5" y="772.9" font-size="36.7" font-weight="bold" fill="#9fadc9" opacity="0.5" textLength="272" lengthAdjust="spacingAndGlyphs">CoinMarketCap</text>
<rect x="1998.5" y="486" width="85" height="65" rx="6" fill="#16c784"/>
<text x="2040.3" y="528.4" font-size="29" fill="#fff" text-anchor="middle" stroke="#fff" stroke-width="0.9" textLength="54.6" lengthAdjust="spacingAndGlyphs">1.28</text>
<text x="2014.3" y="218.5" class="ay">3.00</text><text x="2014.3" y="398.5" class="ay">2.00</text><text x="2013.2" y="580.5" class="ay" textLength="55.4" lengthAdjust="spacingAndGlyphs">1.00</text>
<text x="21.6" y="928.7" text-anchor="start" class="ax" textLength="94.0" lengthAdjust="spacingAndGlyphs">Jan '24</text><text x="342.3" y="928.7" text-anchor="middle" class="ax" textLength="96.8" lengthAdjust="spacingAndGlyphs">Mar '24</text><text x="672.8" y="928.7" text-anchor="middle" class="ax" textLength="102.0" lengthAdjust="spacingAndGlyphs">May '24</text><text x="1003" y="928.7" text-anchor="middle" class="ax" textLength="84.8" lengthAdjust="spacingAndGlyphs">Jul '24</text><text x="1338.9" y="928.7" text-anchor="middle" class="ax" textLength="98.4" lengthAdjust="spacingAndGlyphs">Sep '24</text><text x="1669.6" y="928.7" text-anchor="middle" class="ax" textLength="99.0" lengthAdjust="spacingAndGlyphs">Nov '24</text>
<text x="2062.6" y="884" font-size="31.6" font-weight="bold" fill="#808a9d" stroke="#808a9d" stroke-width="0.5" text-anchor="middle" textLength="63.2" lengthAdjust="spacingAndGlyphs">USD</text>
</svg>
</body></html>
